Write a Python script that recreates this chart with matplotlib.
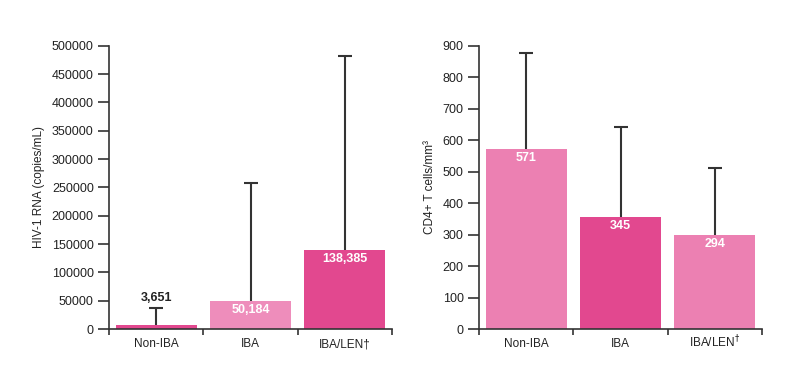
import matplotlib
matplotlib.use("Agg")
import matplotlib.pyplot as plt
import numpy as np

plt.rcParams['font.family'] = ['Liberation Sans', 'DejaVu Sans']

categories = ["Non-IBA", "IBA", "IBA/LEN\u2020"]
categories_right = ["Non-IBA", "IBA", "IBA/LEN$^\u2020$"]

# Left panel: HIV-1 RNA
rna_values = [7000, 50184, 139400]
rna_upper = [36500, 258000, 481000]
rna_labels = ["3,651", "50,184", "138,385"]

# Right panel: CD4+ T cells
cd4_values = [571, 355, 299]
cd4_upper = [878, 643, 511]
cd4_labels = ["571", "345", "294"]

DARK = "#E2488F"
LIGHT_L = "#EE8DBB"
LIGHT_R = "#EC80B2"
left_colors = [DARK, LIGHT_L, DARK]
right_colors = [LIGHT_R, DARK, LIGHT_R]

fig = plt.figure(figsize=(8, 3.85), dpi=100)
ax1 = fig.add_axes([109/800, 56/385, 283/800, 283.3/385])
ax2 = fig.add_axes([479/800, 56/385, 283/800, 283.3/385])

def draw(ax, values, upper, labels, colors, ylim, yticks, ylabel, cats, outside_first):
    x = np.arange(len(values))
    ax.bar(x, values, width=0.86, color=colors, zorder=2)
    ax.vlines(x, values, upper, color='#333333', linewidth=1.5, zorder=1)
    ax.plot(x, upper, linestyle='none', marker='_', markersize=9.5,
            markeredgewidth=1.5, color='#333333', zorder=1)
    span = ylim[1] - ylim[0]
    for i, (v, u, lab) in enumerate(zip(values, upper, labels)):
        if outside_first and i == 0:
            ax.text(i, u + span * 0.014, lab, ha='center', va='bottom',
                    fontsize=9, color='#222222', fontweight='bold')
        else:
            ax.text(i, v - span * 0.032, lab, ha='center', va='center',
                    fontsize=9, color='white', fontweight='bold', zorder=3)
    ax.set_xlim(-0.5, len(values) - 0.5)
    ax.set_ylim(*ylim)
    ax.set_yticks(yticks)
    ax.set_yticklabels([str(t) for t in yticks])
    ax.set_xticks(x)
    ax.set_xticklabels(cats)
    ax.set_xticks(np.arange(len(values) + 1) - 0.5, minor=True)
    ax.tick_params(axis='x', which='major', length=0, pad=13, labelsize=8.5, colors='#222222')
    for lab in ax.get_xticklabels():
        lab.set_verticalalignment('baseline')
    ax.tick_params(axis='x', which='minor', length=4, width=1.2, color='#333333')
    ax.tick_params(axis='y', length=8, width=1.2, color='#333333', labelsize=9, pad=3,
                   labelcolor='#222222')
    for s in ['top', 'right']:
        ax.spines[s].set_visible(False)
    for s in ['left', 'bottom']:
        ax.spines[s].set_linewidth(1.2)
        ax.spines[s].set_color('#333333')
    ax.set_ylabel(ylabel, fontsize=8.5, color='#222222', labelpad=5)

draw(ax1, rna_values, rna_upper, rna_labels, left_colors, (0, 500000),
     list(range(0, 500001, 50000)), "HIV-1 RNA (copies/mL)", categories, True)
draw(ax2, cd4_values, cd4_upper, cd4_labels, right_colors, (0, 900),
     list(range(0, 901, 100)), "CD4+ T cells/mm\u00b3", categories_right, False)

fig.savefig("out.png", dpi=100)
